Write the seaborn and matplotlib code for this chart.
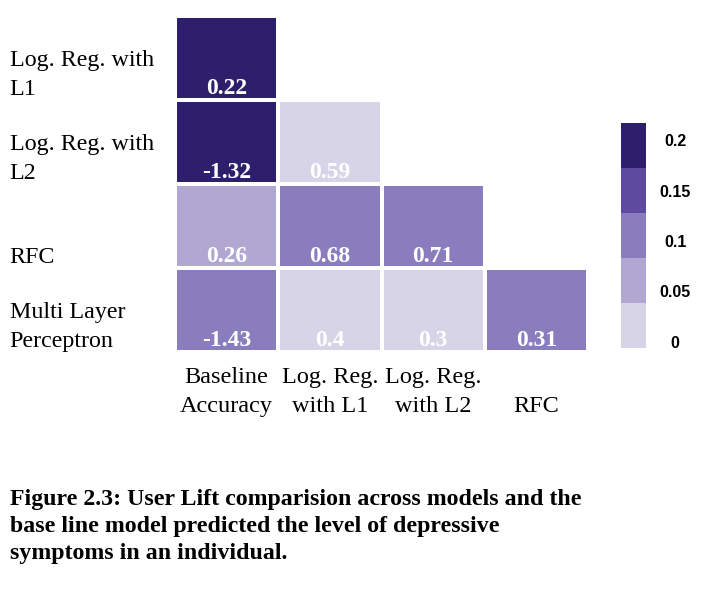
import numpy as np
import pandas as pd
import seaborn as sns
import matplotlib
matplotlib.use("Agg")
import matplotlib.pyplot as plt
from matplotlib.colors import ListedColormap

# ---- data ----
row_labels = ["Log. Reg. with\nL1", "Log. Reg. with\nL2", "RFC", "Multi Layer\nPerceptron"]
col_labels = ["Baseline\nAccuracy", "Log. Reg.\nwith L1", "Log. Reg.\nwith L2", "RFC"]
lift_values = [
    [0.22, np.nan, np.nan, np.nan],
    [-1.32, 0.59, np.nan, np.nan],
    [0.26, 0.68, 0.71, np.nan],
    [-1.43, 0.4, 0.3, 0.31],
]
shade_values = [
    [0.21, np.nan, np.nan, np.nan],
    [0.21, 0.02, np.nan, np.nan],
    [0.06, 0.11, 0.11, np.nan],
    [0.11, 0.02, 0.02, 0.11],
]
cbar_ticks = [0, 0.05, 0.1, 0.15, 0.2]
cbar_ticklabels = ["0", "0.05", "0.1", "0.15", "0.2"]
palette = ["#d8d4e8", "#b1a7d3", "#8a7dbe", "#5e4b9f", "#2e1f6c"]
caption = ("Figure 2.3: User Lift comparision across models and the\n"
           "base line model predicted the level of depressive\n"
           "symptoms in an individual.")

shade_df = pd.DataFrame(shade_values, index=row_labels, columns=col_labels)
lift_df = pd.DataFrame(lift_values, index=row_labels, columns=col_labels)
annot = lift_df.map(lambda v: "" if pd.isna(v) else f"{v:g}")

serif = ["Liberation Serif", "DejaVu Serif"]

fig = plt.figure(figsize=(7.1, 5.9), dpi=100)
ax = fig.add_axes([175 / 710, 1 - 352 / 590, 413 / 710, 336 / 590])
cax = fig.add_axes([621 / 710, 1 - 348 / 590, 25 / 710, 225 / 590])

sns.heatmap(shade_df, ax=ax, cbar_ax=cax, cmap=ListedColormap(palette),
            vmin=-0.006, vmax=0.217, linewidths=1.5, linecolor="white",
            annot=annot, fmt="",
            annot_kws=dict(color="white", fontsize=17, fontweight="bold",
                           family=serif),
            cbar_kws=dict(ticks=cbar_ticks))

# move annotations to the bottom of each cell
for t in ax.texts:
    x, y = t.get_position()
    t.set_position((x, y + 0.43))
    t.set_va("baseline")

# row labels
ax.set_yticks(np.arange(len(row_labels)) + 1.0)
ax.set_yticklabels(row_labels, rotation=0, ha="left", va="bottom",
                   fontsize=17.3, family=serif, linespacing=1.5)
ax.tick_params(axis="y", length=0, pad=119)

# column labels
ax.set_xticklabels(col_labels, rotation=0, ha="center", va="bottom",
                   fontsize=17.5, family=serif, linespacing=1.5)
ax.tick_params(axis="x", length=0, pad=47)
ax.set_xlabel("")
ax.set_ylabel("")

# colorbar styling
cb = ax.collections[0].colorbar
cb.outline.set_visible(False)
cax.set_yticks(cbar_ticks)
cax.set_yticklabels(cbar_ticklabels, ha="center", fontsize=11.5,
                    fontweight="bold", family=["Liberation Sans", "DejaVu Sans"])
cax.tick_params(length=0, pad=21)

fig.text(10 / 710, 1 - 489 / 590, caption, ha="left", va="top",
         fontsize=17.2, fontweight="bold", family=serif, linespacing=1.36)

fig.savefig("out.png", dpi=100)
